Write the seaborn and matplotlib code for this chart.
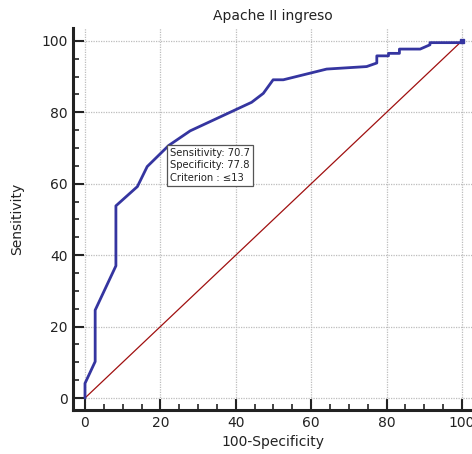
import matplotlib
matplotlib.use("Agg")
import matplotlib.pyplot as plt
import seaborn as sns
import pandas as pd
from matplotlib.ticker import MultipleLocator

# Data
fpr = [0, 0, 2.7, 2.7, 8.2, 8.2, 13.9, 16.5, 22.2, 27.9, 44.2, 47.3, 49.9, 52.6,
       64.1, 74.7, 77.4, 77.4, 80.5, 80.5, 83.4, 83.4, 88.9, 91.5, 91.5, 100, 100]
tpr = [0, 4.1, 10.2, 24.6, 37.0, 53.8, 59.2, 64.8, 70.7, 74.8, 82.8, 85.3, 89.1, 89.1,
       92.1, 92.8, 93.8, 95.8, 95.8, 96.5, 96.5, 97.7, 97.7, 98.9, 99.5, 99.5, 100]
diag_x = [0, 100]
diag_y = [0, 100]
ticks = [0, 20, 40, 60, 80, 100]
crit_point = (22.2, 70.7)
crit_text = "Sensitivity: 70.7\nSpecificity: 77.8\nCriterion : \u226413"
title = "Apache II ingreso"
xlabel = "100-Specificity"
ylabel = "Sensitivity"

sns.set_style("white")
plt.rcParams['font.family'] = ['DejaVu Sans']

W, H = 472, 454
fig = plt.figure(figsize=(W / 100, H / 100), dpi=100)
ax = fig.add_axes([73 / W, 1 - 410 / H, (472 - 73) / W, (410 - 28) / H])

roc = pd.DataFrame({"x": fpr, "y": tpr})
diag = pd.DataFrame({"x": diag_x, "y": diag_y})

sns.lineplot(data=diag, x="x", y="y", ax=ax, color="#a01010", linewidth=0.9,
             sort=False, estimator=None)
sns.lineplot(data=roc, x="x", y="y", ax=ax, color="#3535a0", linewidth=2.0,
             sort=False, estimator=None)
ax.plot([100], [100], marker="s", markersize=3.5, color="#3535a0")

ax.set_xlim(-3.18, 102.65)
ax.set_ylim(-3.36, 103.6)
ax.set_xticks(ticks)
ax.set_yticks(ticks)
ax.xaxis.set_minor_locator(MultipleLocator(5))
ax.yaxis.set_minor_locator(MultipleLocator(5))
ax.tick_params(which="major", direction="in", length=8, width=1.5, color="#222222",
               labelsize=10, labelcolor="#222222", pad=4)
ax.tick_params(which="minor", direction="in", length=4, width=1.2, color="#222222")
ax.tick_params(axis="x", which="both", bottom=True)
ax.tick_params(axis="y", which="both", left=True)

ax.grid(True, which="major", color="#bdbdbd", linestyle=(0, (1, 1)), linewidth=0.9)
ax.set_axisbelow(True)

for s in ["top", "right"]:
    ax.spines[s].set_visible(False)
for s in ["left", "bottom"]:
    ax.spines[s].set_color("#222222")
    ax.spines[s].set_linewidth(2.2)

ax.set_title(title, fontsize=10, color="#222222", pad=6)
ax.set_xlabel(xlabel, fontsize=10, color="#222222", labelpad=4)
ax.set_ylabel(ylabel, fontsize=10, color="#222222", labelpad=12)

ax.text(crit_point[0] + 0.4, crit_point[1] - 0.6, crit_text, ha="left", va="top",
        fontsize=7.2, color="#222222", linespacing=1.35,
        bbox=dict(boxstyle="square,pad=0.3", facecolor="white",
                  edgecolor="#555555", linewidth=0.9))

fig.savefig("out.png", dpi=100)
